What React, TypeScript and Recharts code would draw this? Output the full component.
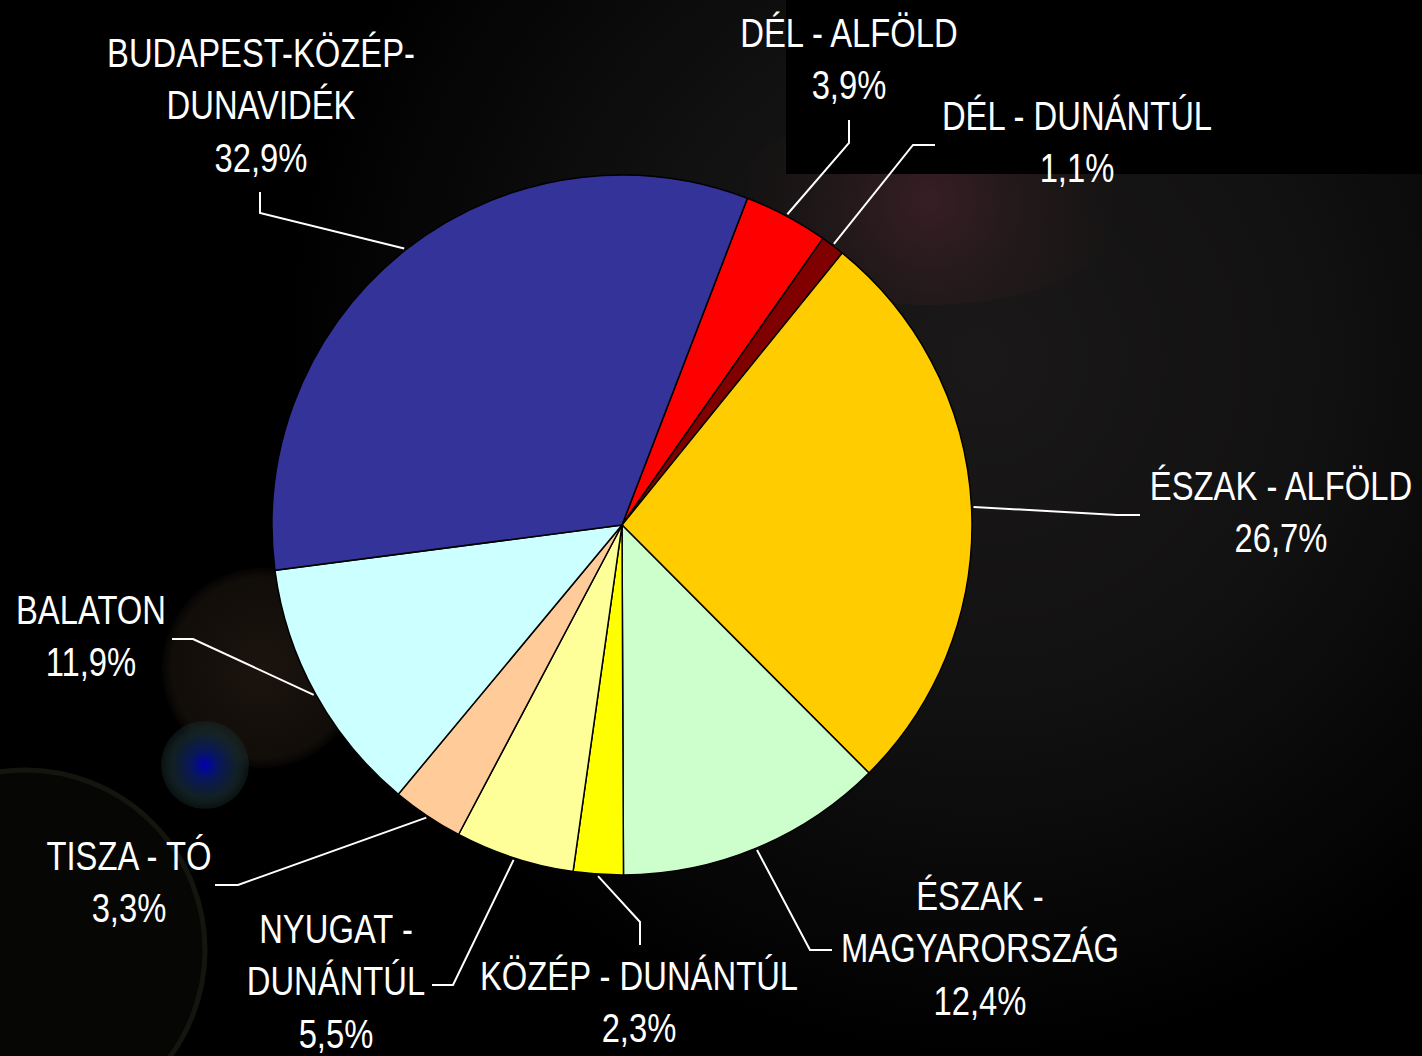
import React from 'react';
import { PieChart, Pie, Cell } from 'recharts';

// ---- data ----
const regionNames = [
  'DÉL - ALFÖLD',
  'DÉL - DUNÁNTÚL',
  'ÉSZAK - ALFÖLD',
  'ÉSZAK - MAGYARORSZÁG',
  'KÖZÉP - DUNÁNTÚL',
  'NYUGAT - DUNÁNTÚL',
  'TISZA - TÓ',
  'BALATON',
  'BUDAPEST-KÖZÉP-DUNAVIDÉK',
];
const labelRows = [
  ['DÉL - ALFÖLD'],
  ['DÉL - DUNÁNTÚL'],
  ['ÉSZAK - ALFÖLD'],
  ['ÉSZAK -', 'MAGYARORSZÁG'],
  ['KÖZÉP - DUNÁNTÚL'],
  ['NYUGAT -', 'DUNÁNTÚL'],
  ['TISZA - TÓ'],
  ['BALATON'],
  ['BUDAPEST-KÖZÉP-', 'DUNAVIDÉK'],
];
const sharePercent = [3.9, 1.1, 26.7, 12.4, 2.3, 5.5, 3.3, 11.9, 32.9];
const sliceColors = [
  '#FF0000',
  '#800000',
  '#FFCC00',
  '#CCFFCC',
  '#FFFF00',
  '#FFFF99',
  '#FFCC99',
  '#CCFFFF',
  '#333399',
];

// label placement relative to pie centre: text centre/first baseline, elbow, end of leader
const labelLayout = [
  { tx: 227, ty: -478, ex: 227, ey: -382, lx: 227, ly: -405 },
  { tx: 455, ty: -395, ex: 291, ey: -380, lx: 313, ly: -380 },
  { tx: 659, ty: -25, ex: 495, ey: -10, lx: 518, ly: -10 },
  { tx: 358, ty: 385, ex: 188, ey: 425, lx: 210, ly: 425 },
  { tx: 17, ty: 465, ex: 18, ey: 397, lx: 18, ly: 420 },
  { tx: -286, ty: 418, ex: -169, ey: 460, lx: -190, ly: 460 },
  { tx: -493, ty: 345, ex: -384, ey: 360, lx: -407, ly: 360 },
  { tx: -531, ty: 99, ex: -429, ey: 114, lx: -450, ly: 114 },
  { tx: -361, ty: -458, ex: -362, ey: -312, lx: -362, ly: -333 },
];

const chartData = regionNames.map((name, i) => ({ name, value: sharePercent[i] }));

const W = 1422;
const H = 1056;
const FONT = "'Liberation Sans', Arial, sans-serif";
const FONT_SIZE = 40;
const NARROW = 0.82;
const LINE_H = 52.5;
const RAD = Math.PI / 180;

const fmt = (v: number) => v.toFixed(1).replace('.', ',') + '%';

const renderLabel = (props: any) => {
  const { cx, cy, midAngle, outerRadius, index } = props;
  const lay = labelLayout[index];
  const r = outerRadius + 2;
  const sx = cx + r * Math.cos(-midAngle * RAD);
  const sy = cy + r * Math.sin(-midAngle * RAD);
  const rows = [...labelRows[index], fmt(sharePercent[index])];
  return (
    <g key={'lbl' + index}>
      <polyline
        points={`${sx},${sy} ${cx + lay.ex},${cy + lay.ey} ${cx + lay.lx},${cy + lay.ly}`}
        fill="none"
        stroke="#FFFFFF"
        strokeWidth={2}
      />
      <text
        transform={`translate(${cx + lay.tx},${cy + lay.ty}) scale(${NARROW},1)`}
        x={0}
        y={0}
        fill="#FFFFFF"
        textAnchor="middle"
        fontFamily={FONT}
        fontSize={FONT_SIZE}
      >
        {rows.map((row, k) => (
          <tspan key={k} x={0} y={k * LINE_H}>
            {row}
          </tspan>
        ))}
      </text>
    </g>
  );
};

const Background = () => (
  <svg width={W} height={H} style={{ position: 'absolute', left: 0, top: 0 }}>
    <defs>
      <radialGradient id="haze" cx="980" cy="360" r="700" gradientUnits="userSpaceOnUse">
        <stop offset="0" stopColor="#1a1818" />
        <stop offset="0.5" stopColor="#121111" />
        <stop offset="1" stopColor="#000000" />
      </radialGradient>
      <radialGradient id="redglow" cx="930" cy="200" r="190" gradientUnits="userSpaceOnUse">
        <stop offset="0" stopColor="#42222a" stopOpacity="0.75" />
        <stop offset="1" stopColor="#2a1a1c" stopOpacity="0" />
      </radialGradient>
      <radialGradient id="blueflare" cx="205" cy="765" r="44" gradientUnits="userSpaceOnUse">
        <stop offset="0" stopColor="#0000b0" />
        <stop offset="0.3" stopColor="#081660" />
        <stop offset="0.75" stopColor="#16282c" stopOpacity="0.8" />
        <stop offset="1" stopColor="#1c3030" stopOpacity="0.35" />
      </radialGradient>
      <radialGradient id="brownflare" cx="262" cy="668" r="100" gradientUnits="userSpaceOnUse">
        <stop offset="0" stopColor="#2e2216" stopOpacity="0.6" />
        <stop offset="0.9" stopColor="#221a12" stopOpacity="0.5" />
        <stop offset="1" stopColor="#221a12" stopOpacity="0.15" />
      </radialGradient>
    </defs>
    <rect x={0} y={0} width={W} height={H} fill="#000" />
    <rect x={0} y={0} width={W} height={H} fill="url(#haze)" />
    <ellipse cx={930} cy={205} rx={200} ry={100} fill="url(#redglow)" />
    <rect x={786} y={0} width={W - 786} height={174} fill="#000" />
    <circle cx={25} cy={950} r={180} fill="#060605" stroke="#15150f" strokeWidth={5} />
    <circle cx={262} cy={668} r={100} fill="url(#brownflare)" />
    <circle cx={205} cy={765} r={44} fill="url(#blueflare)" />
  </svg>
);

export default function App() {
  return (
    <div style={{ position: 'absolute', left: 0, top: 0, width: W, height: H, background: '#000', overflow: 'hidden' }}>
      <Background />
      <div style={{ position: 'absolute', left: 0, top: 0 }}>
        <PieChart width={W} height={H} margin={{ top: 0, right: 0, bottom: 0, left: 0 }}>
          <Pie
            data={chartData}
            dataKey="value"
            nameKey="name"
            cx={622}
            cy={525}
            outerRadius={350}
            startAngle={69}
            endAngle={-291}
            stroke="#000000"
            strokeWidth={1.5}
            isAnimationActive={false}
            labelLine={false}
            label={renderLabel}
          >
            {chartData.map((d, i) => (
              <Cell key={d.name} fill={sliceColors[i]} />
            ))}
          </Pie>
        </PieChart>
      </div>
    </div>
  );
}
